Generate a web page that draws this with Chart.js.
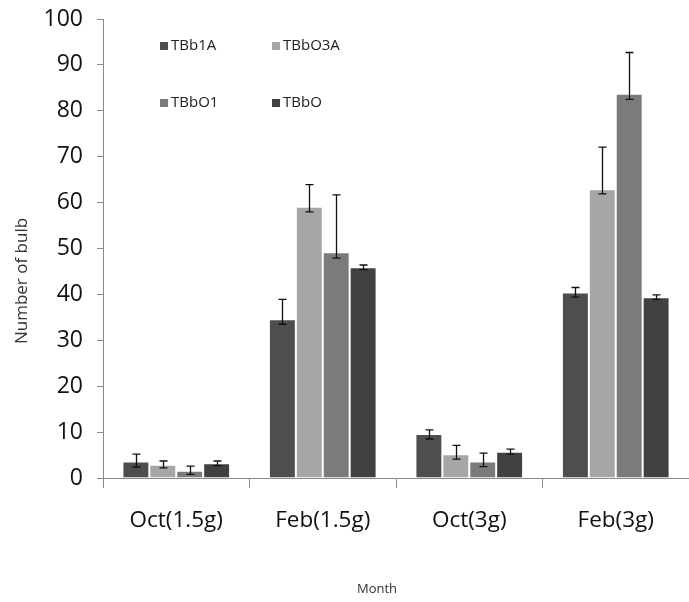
<!DOCTYPE html>
<html>
<head>
<meta charset="utf-8">
<script src="https://cdn.jsdelivr.net/npm/chart.js@4.4.0/dist/chart.umd.min.js"></script>
<style>
  html, body { margin: 0; padding: 0; background: #fff; }
</style>
</head>
<body>
<canvas id="chart" width="689" height="602"></canvas>
<script>
// Data
const months = ["Oct(1.5g)", "Feb(1.5g)", "Oct(3g)", "Feb(3g)"];
const seriesNames = ["TBb1A", "TBbO3A", "TBbO1", "TBbO"];
const yTicks = [0, 10, 20, 30, 40, 50, 60, 70, 80, 90, 100];

const tbb1a  = [3.6, 34.6, 9.6, 40.4];
const tbbo3a = [2.9, 59.1, 5.2, 62.9];
const tbbo1  = [1.6, 49.2, 3.6, 83.7];
const tbbo   = [3.2, 45.9, 5.7, 39.4];

// error bars: upper and lower length
const tbb1aUp  = [1.6, 4.3, 0.9, 1.1];
const tbb1aLo  = [1.2, 1.1, 1.1, 1.0];
const tbbo3aUp = [0.8, 4.8, 1.9, 9.2];
const tbbo3aLo = [0.7, 1.1, 1.1, 1.0];
const tbbo1Up  = [1.0, 12.5, 1.8, 9.0];
const tbbo1Lo  = [0.8, 1.3, 1.1, 1.2];
const tbboUp   = [0.5, 0.5, 0.6, 0.5];
const tbboLo   = [0.5, 0.5, 0.5, 0.5];

const colors = ["#4e4e4e", "#a6a6a6", "#7b7b7b", "#414141"];
const FONT = "'Open Sans', 'Noto Sans', sans-serif";

// error bars drawn over the bars
const errorBars = {
  id: "errorBars",
  afterDatasetsDraw(chart) {
    const { ctx, scales: { y } } = chart;
    ctx.save();
    ctx.strokeStyle = "#111";
    ctx.lineWidth = 1.3;
    chart.data.datasets.forEach(function(ds, di){
      const meta = chart.getDatasetMeta(di);
      meta.data.forEach(function(bar, i){
        const v = ds.data[i];
        const top = y.getPixelForValue(v + ds.errUp[i]);
        const bot = y.getPixelForValue(v - ds.errLo[i]);
        const x = Math.round(bar.x) + 0.5;
        ctx.beginPath();
        ctx.moveTo(x, top); ctx.lineTo(x, bot);
        ctx.moveTo(x - 4, top); ctx.lineTo(x + 4, top);
        ctx.moveTo(x - 4, bot); ctx.lineTo(x + 4, bot);
        ctx.stroke();
      });
    });
    ctx.restore();
  }
};

// legend in two columns inside the plot, plus axis titles
const extras = {
  id: "extras",
  afterDraw(chart) {
    const { ctx, chartArea } = chart;
    ctx.save();
    ctx.font = "15px " + FONT;
    ctx.textBaseline = "middle";
    ctx.textAlign = "left";
    chart.data.datasets.forEach(function(ds, i){
      const col = i % 2, row = Math.floor(i / 2);
      const x = chartArea.left + 57 + col * 112;
      const yy = chartArea.top + 27 + row * 57;
      ctx.fillStyle = ds.backgroundColor;
      ctx.fillRect(x, yy - 4, 8, 8);
      ctx.fillStyle = "#222";
      ctx.fillText(ds.label, x + 11, yy);
    });

    ctx.fillStyle = "#333";
    ctx.font = "17px " + FONT;
    ctx.textAlign = "center";
    ctx.translate(22, 281);
    ctx.rotate(-Math.PI / 2);
    ctx.fillText("Number of bulb", 0, 0);
    ctx.setTransform(1, 0, 0, 1, 0, 0);
    ctx.font = "13px " + FONT;
    ctx.fillText("Month", 377, 589);
    ctx.restore();
  }
};

const values = [tbb1a, tbbo3a, tbbo1, tbbo];
const ups = [tbb1aUp, tbbo3aUp, tbbo1Up, tbboUp];
const los = [tbb1aLo, tbbo3aLo, tbbo1Lo, tbboLo];

new Chart(document.getElementById("chart"), {
  type: "bar",
  data: {
    labels: months,
    datasets: seriesNames.map(function(name, i){
      return {
        label: name,
        data: values[i],
        errUp: ups[i],
        errLo: los[i],
        backgroundColor: colors[i],
        borderColor: "rgba(255,255,255,0.25)",
        borderWidth: 1,
        categoryPercentage: 0.735,
        barPercentage: 1.0
      };
    })
  },
  options: {
    responsive: false,
    animation: false,
    layout: { padding: { top: 19, right: 0, left: 0, bottom: 0 } },
    plugins: { legend: { display: false }, tooltip: { enabled: false } },
    scales: {
      x: {
        afterFit(s) { s.height = 124; s.paddingLeft = 0; s.paddingRight = 0; },
        grid: { offset: true, drawOnChartArea: false, tickLength: 10, color: "#8a8a8a" },
        border: { color: "#8a8a8a" },
        ticks: { padding: 19, color: "#111", font: { family: FONT, size: 22.5 } }
      },
      y: {
        min: 0, max: 100,
        afterFit(s) { s.width = 103; s.paddingTop = 0; s.paddingBottom = 0; },
        afterBuildTicks(s) { s.ticks = yTicks.map(function(v){ return { value: v }; }); },
        grid: { drawOnChartArea: false, tickLength: 6, color: "#8a8a8a" },
        border: { color: "#8a8a8a" },
        ticks: { padding: 14, color: "#111", font: { family: FONT, size: 23 } }
      }
    }
  },
  plugins: [errorBars, extras]
});
</script>
</body>
</html>
